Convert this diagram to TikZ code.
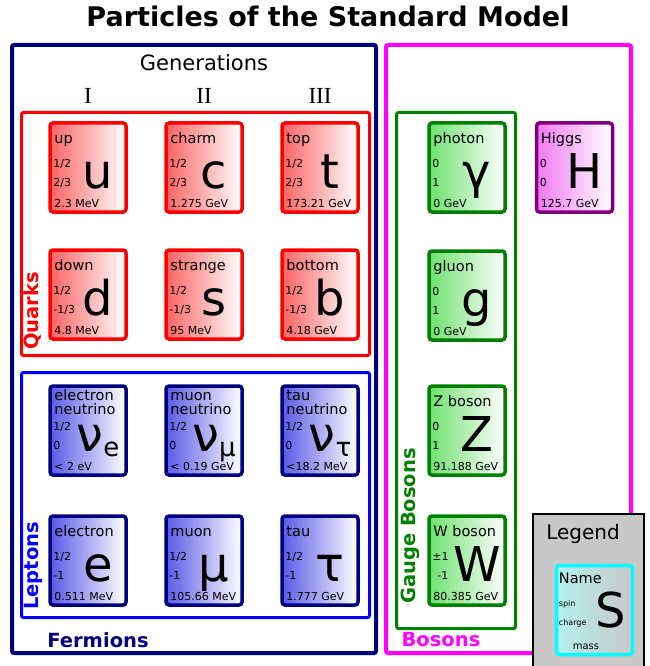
\documentclass[tikz,border=0pt]{standalone}
\usepackage{fontspec}
\setmainfont{DejaVu Sans}
\newfontfamily\genfont{Liberation Serif}

\definecolor{fnavy}{RGB}{0,0,128}
\definecolor{bmagenta}{RGB}{255,0,255}
\definecolor{gdark}{RGB}{0,128,0}
\definecolor{glight}{RGB}{110,225,110}
\definecolor{hpurple}{RGB}{128,0,128}
\definecolor{hlight}{RGB}{240,120,240}
\definecolor{qlight}{RGB}{250,100,100}
\definecolor{llight}{RGB}{90,90,230}
\definecolor{legcyan}{RGB}{0,255,255}
\definecolor{leglight}{RGB}{180,240,240}
\definecolor{leggray}{RGB}{200,200,200}

\tikzset{
  card/.style={rectangle, rounded corners=3pt, line width=3.5pt, minimum width=76pt, minimum height=89pt, inner sep=0pt},
  quarkcard/.style={card, draw=red, left color=qlight, right color=white},
  leptoncard/.style={card, draw=fnavy, left color=llight, right color=white},
  gaugecard/.style={card, draw=gdark, left color=glight, right color=white},
  higgscard/.style={card, draw=hpurple, left color=hlight, right color=white},
  pname/.style={anchor=base west, inner sep=0pt, font=\fontsize{14.5}{12}\selectfont},
  pnum/.style={anchor=base west, inner sep=0pt, font=\fontsize{11}{12}\selectfont},
  psym/.style={anchor=base, inner sep=0pt, font=\fontsize{48}{48}\selectfont},
  grouplabel/.style={font=\bfseries\fontsize{19.5}{19.5}\selectfont},
}

\newcommand{\twoline}[2]{\raisebox{6pt}{\begin{tabular}[t]{@{}l@{}}#1\\[-1pt]#2\end{tabular}}}
\newcommand{\psub}[1]{\raisebox{-5pt}{\fontsize{26}{26}\selectfont #1}}

% #1 name, #2 x, #3 y, #4 style, #5 label, #6 spin, #7 charge, #8 mass, #9 symbol
\newcommand{\particle}[9]{%
  \node[#4] (#1) at (#2,#3) {};
  \node[pname] (#1-name) at ([xshift=6pt,yshift=24pt]#1.west) {#5};
  \node[pnum] (#1-spin) at ([xshift=5pt,yshift=0pt]#1.west) {#6};
  \node[pnum] (#1-charge) at ([xshift=5pt,yshift=-19pt]#1.west) {#7};
  \node[pnum] (#1-mass) at ([xshift=6pt,yshift=-40pt]#1.west) {#8};
  \node[psym] (#1-sym) at ([xshift=10pt,yshift=-21pt]#1.center) {#9};
}

\begin{document}
\begin{tikzpicture}[x=1pt, y=-1pt]
    \useasboundingbox (0,0) rectangle (649,666);

    \node[anchor=base, font=\bfseries\fontsize{27}{27}\selectfont] (title) at (328,27) {Particles of the Standard Model};

    % group boxes
    \draw[line width=4pt, fnavy, rounded corners=2pt] (12,45) rectangle (376,653);
    \draw[line width=4pt, bmagenta, rounded corners=2pt] (386,45) rectangle (631,653);
    \draw[line width=3pt, red, rounded corners=2pt] (21.5,112.5) rectangle (369.5,355.5);
    \draw[line width=3pt, blue, rounded corners=2pt] (21.5,372.5) rectangle (369.5,617.5);
    \draw[line width=3pt, gdark, rounded corners=2pt] (396.5,112.5) rectangle (515.5,628.5);

    \node[font=\fontsize{21}{21}\selectfont] (gen) at (204,63) {Generations};
    \node[font=\genfont\fontsize{23}{23}\selectfont] (gen1) at (88,96) {I};
    \node[font=\genfont\fontsize{23}{23}\selectfont] (gen2) at (204,96) {II};
    \node[font=\genfont\fontsize{23}{23}\selectfont] (gen3) at (320,96) {III};

    \node[grouplabel, rotate=90, text=red] (quarks) at (33,311) {Quarks};
    \node[grouplabel, rotate=90, text=blue] (leptons) at (33,566) {Leptons};
    \node[grouplabel, rotate=90, text=gdark] (gauge) at (410,526) {Gauge Bosons};
    \node[grouplabel, text=fnavy] (fermions) at (98,640) {Fermions};
    \node[grouplabel, text=bmagenta] (bosons) at (441,640) {Bosons};

    % quarks
    \particle{u}{88}{167.5}{quarkcard}{up}{1/2}{2/3}{2.3 MeV}{u}
    \particle{c}{204}{167.5}{quarkcard}{charm}{1/2}{2/3}{1.275 GeV}{c}
    \particle{t}{320}{167.5}{quarkcard}{top}{1/2}{2/3}{173.21 GeV}{t}
    \particle{d}{88}{294.5}{quarkcard}{down}{1/2}{-1/3}{4.8 MeV}{d}
    \particle{s}{204}{294.5}{quarkcard}{strange}{1/2}{-1/3}{95 MeV}{s}
    \particle{b}{320}{294.5}{quarkcard}{bottom}{1/2}{-1/3}{4.18 GeV}{b}

    % leptons
    \particle{nue}{88}{430.5}{leptoncard}{\twoline{electron}{neutrino}}{1/2}{0}{< 2 eV}{ν\psub{e}}
    \particle{numu}{204}{430.5}{leptoncard}{\twoline{muon}{neutrino}}{1/2}{0}{< 0.19 GeV}{ν\psub{μ}}
    \particle{nutau}{320}{430.5}{leptoncard}{\twoline{tau}{neutrino}}{1/2}{0}{<18.2 MeV}{ν\psub{τ}}
    \particle{e}{88}{560.5}{leptoncard}{electron}{1/2}{-1}{0.511 MeV}{e}
    \particle{mu}{204}{560.5}{leptoncard}{muon}{1/2}{-1}{105.66 MeV}{μ}
    \particle{tau}{320}{560.5}{leptoncard}{tau}{1/2}{-1}{1.777 GeV}{τ}

    % bosons
    \particle{gamma}{467}{167.5}{gaugecard}{photon}{0}{1}{0 GeV}{γ}
    \particle{g}{467}{295.5}{gaugecard}{gluon}{0}{1}{0 GeV}{g}
    \particle{Z}{467}{430.5}{gaugecard}{Z boson}{0}{1}{91.188 GeV}{Z}
    \particle{W}{467}{560.5}{gaugecard}{W boson}{±1}{\hspace{5pt}-1}{80.385 GeV}{W}
    \particle{H}{574.5}{167.5}{higgscard}{Higgs}{0}{0}{125.7 GeV}{H}

    % legend
    \draw[line width=2pt, black, fill=leggray] (533,514) rectangle (644,690);
    \node[font=\fontsize{20}{20}\selectfont] (legend) at (583,534) {Legend};
    \node[card, draw=legcyan, left color=leglight, right color=leggray] (leg) at (594.5,610) {};
    \node[pname] (leg-name) at ([xshift=4pt,yshift=27pt]leg.west) {Name};
    \node[pnum, font=\fontsize{8}{8}\selectfont] (leg-spin) at ([xshift=4pt,yshift=4pt]leg.west) {spin};
    \node[pnum, font=\fontsize{8}{8}\selectfont] (leg-charge) at ([xshift=4pt,yshift=-15pt]leg.west) {charge};
    \node[anchor=base, inner sep=0pt, font=\fontsize{10}{12}\selectfont] (leg-mass) at ([xshift=-8.5pt,yshift=-39pt]leg.center) {mass};
    \node[psym] (leg-sym) at ([xshift=16pt,yshift=-17pt]leg.center) {S};
\end{tikzpicture}
\end{document}
